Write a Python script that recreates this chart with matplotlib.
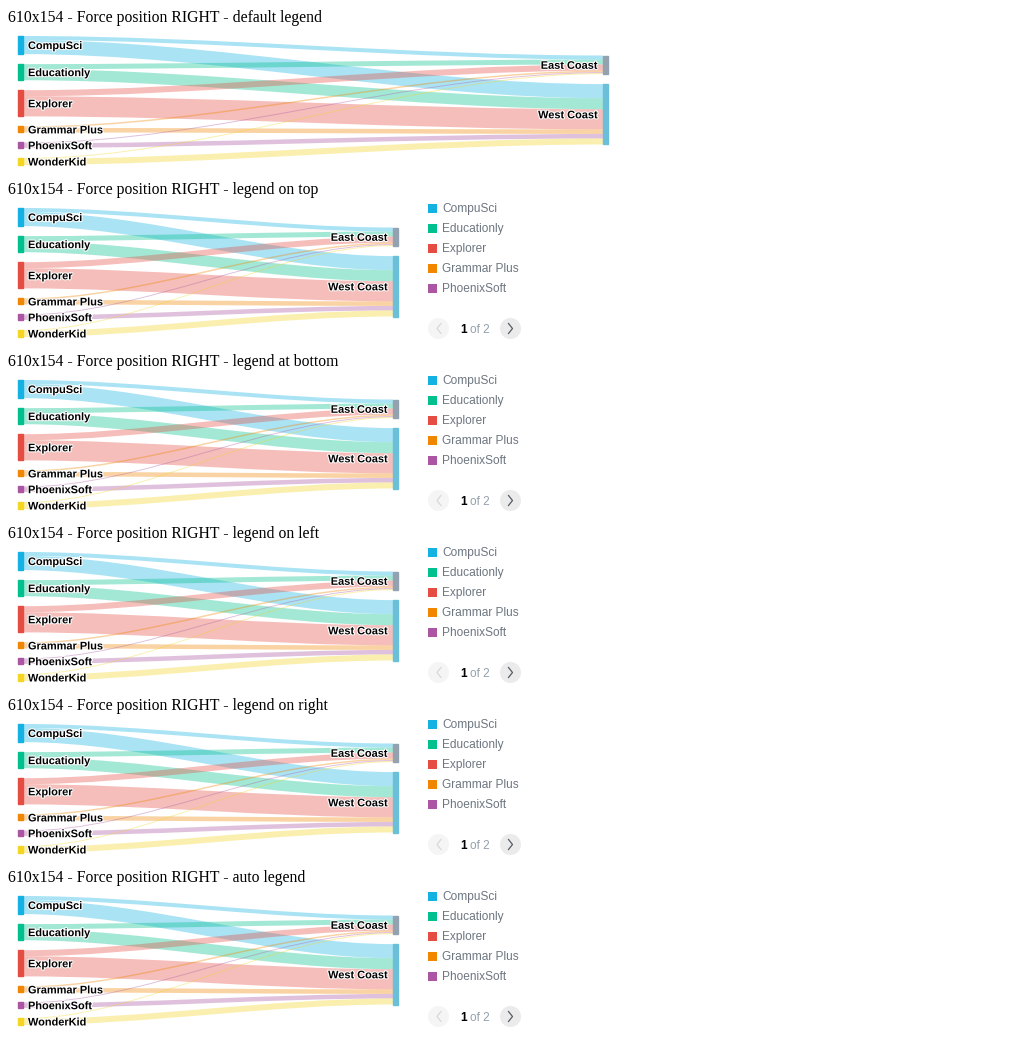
import matplotlib
matplotlib.use("Agg")
import matplotlib.pyplot as plt
import matplotlib.patheffects as pe
from matplotlib.path import Path
from matplotlib.patches import PathPatch, Rectangle, Circle

# data
SOURCES = ["CompuSci", "Educationly", "Explorer", "Grammar Plus", "PhoenixSoft", "WonderKid"]
TARGETS = ["East Coast", "West Coast"]
EAST = [4, 5, 6, 1.5, 1, 1]
WEST = [14, 11, 20, 4.5, 4.5, 6]
TITLES = [
    "610x154 - Force position RIGHT - default legend",
    "610x154 - Force position RIGHT - legend on top",
    "610x154 - Force position RIGHT - legend at bottom",
    "610x154 - Force position RIGHT - legend on left",
    "610x154 - Force position RIGHT - legend on right",
    "610x154 - Force position RIGHT - auto legend",
]
LEGEND_SHOWN = [False, True, True, True, True, True]
LEGEND_PAGE = "1"
LEGEND_PAGES = "of 2"
PAGE_SIZE = 5

SRC_COLORS = ["#14b2e2", "#00c18d", "#e54d42", "#f18600", "#ab55a3", "#f4d521"]
TGT_COLORS = ["#94a1ae", "#6bbfd8"]

PANEL_STEP = 172
PAD = 10
NODE_W = 5
SANS = "Liberation Sans"


def link_path(x0, y0a, y0b, x1, y1a, y1b):
    c = (x1 - x0) * 0.33
    verts = [(x0, y0a), (x0 + c, y0a), (x1 - c, y1a), (x1, y1a),
             (x1, y1b), (x1 - c, y1b), (x0 + c, y0b), (x0, y0b), (x0, y0a)]
    codes = [Path.MOVETO, Path.CURVE4, Path.CURVE4, Path.CURVE4,
             Path.LINETO, Path.CURVE4, Path.CURVE4, Path.CURVE4, Path.CLOSEPOLY]
    return Path(verts, codes)


def draw_sankey(ax, top, right):
    flows = [[e, w] for e, w in zip(EAST, WEST)]
    plot_top, plot_bot = top + 36, top + 165
    plot_h = plot_bot - plot_top
    total = sum(EAST) + sum(WEST)
    f = (plot_h - PAD * (len(SOURCES) - 1)) / total

    xl = 18
    xr = right - NODE_W
    # source nodes
    src_y = []
    y = plot_top
    for row in flows:
        src_y.append(y)
        y += sum(row) * f + PAD
    # target nodes, centered in the column
    tgt_tot = [sum(col) for col in zip(*flows)]
    col_h = sum(tgt_tot) * f + PAD * (len(TARGETS) - 1)
    tgt_y = []
    y = plot_top + (plot_h - col_h) / 2 - 0.5
    for t in tgt_tot:
        tgt_y.append(y)
        y += t * f + PAD

    for i, row in enumerate(flows):
        for j, v in enumerate(row):
            s0 = src_y[i] + sum(row[:j]) * f
            t0 = tgt_y[j] + sum(flows[k][j] for k in range(i)) * f
            h = v * f
            p = link_path(xl + NODE_W, s0, s0 + h, xr, t0, t0 + h)
            ax.add_patch(PathPatch(p, facecolor=SRC_COLORS[i], alpha=0.36,
                                   edgecolor="none", zorder=1))

    outline = [pe.withStroke(linewidth=1.5, foreground="white")]
    for i, name in enumerate(SOURCES):
        h = sum(flows[i]) * f
        ax.add_patch(Rectangle((xl, src_y[i]), NODE_W, h, color=SRC_COLORS[i], zorder=2))
        ax.text(xl + NODE_W + 5, src_y[i] + h / 2 + 4, name, ha="left", va="baseline",
                fontsize=7.9, fontweight="bold", family=SANS, color="black",
                path_effects=outline, zorder=3)
    for j, name in enumerate(TARGETS):
        h = tgt_tot[j] * f
        ax.add_patch(Rectangle((xr, tgt_y[j]), NODE_W, h, color=TGT_COLORS[j], zorder=2))
        ax.text(xr - 5, tgt_y[j] + h / 2 + 4, name, ha="right", va="baseline",
                fontsize=7.9, fontweight="bold", family=SANS, color="black",
                path_effects=outline, zorder=3)


def draw_legend(ax, top):
    for k, name in enumerate(SOURCES[:PAGE_SIZE]):
        yc = top + 36 + 20 * k
        ax.add_patch(Rectangle((428, yc - 4.5), 9, 9, color=SRC_COLORS[k], lw=0))
        ax.text(442, yc + 4.3, name, ha="left", va="baseline", fontsize=8.6,
                family=SANS, color="#6d7680")
    yc = top + 156.5
    ax.add_patch(Circle((438.5, yc), 10.5, facecolor="#f5f5f5", edgecolor="none"))
    ax.plot([441, 437, 441], [yc - 5, yc, yc + 5], color="#d5d9de", lw=0.9)
    ax.add_patch(Circle((510.5, yc), 10.5, facecolor="#ebebeb", edgecolor="none"))
    ax.plot([508.5, 512.5, 508.5], [yc - 5, yc, yc + 5], color="#555c66", lw=0.9)
    ax.text(460, yc + 4.3, LEGEND_PAGE, ha="left", va="baseline", fontsize=8.6,
            fontweight="bold", family=SANS, color="black")
    ax.text(470, yc + 4.3, LEGEND_PAGES, ha="left", va="baseline", fontsize=8.6,
            family=SANS, color="#94a1ae")


fig = plt.figure(figsize=(10.24, 10.48), dpi=100)
ax = fig.add_axes([0, 0, 1, 1])
ax.set_xlim(0, 1024)
ax.set_ylim(1048, 0)
ax.axis("off")

for p, title in enumerate(TITLES):
    top = p * PANEL_STEP
    ax.text(8, top + 22, title, ha="left", va="baseline", fontsize=11.35,
            family="Liberation Serif", color="black")
    if LEGEND_SHOWN[p]:
        draw_sankey(ax, top, 398)
        draw_legend(ax, top)
    else:
        draw_sankey(ax, top, 608)

fig.savefig("out.png", dpi=100, facecolor="white")
